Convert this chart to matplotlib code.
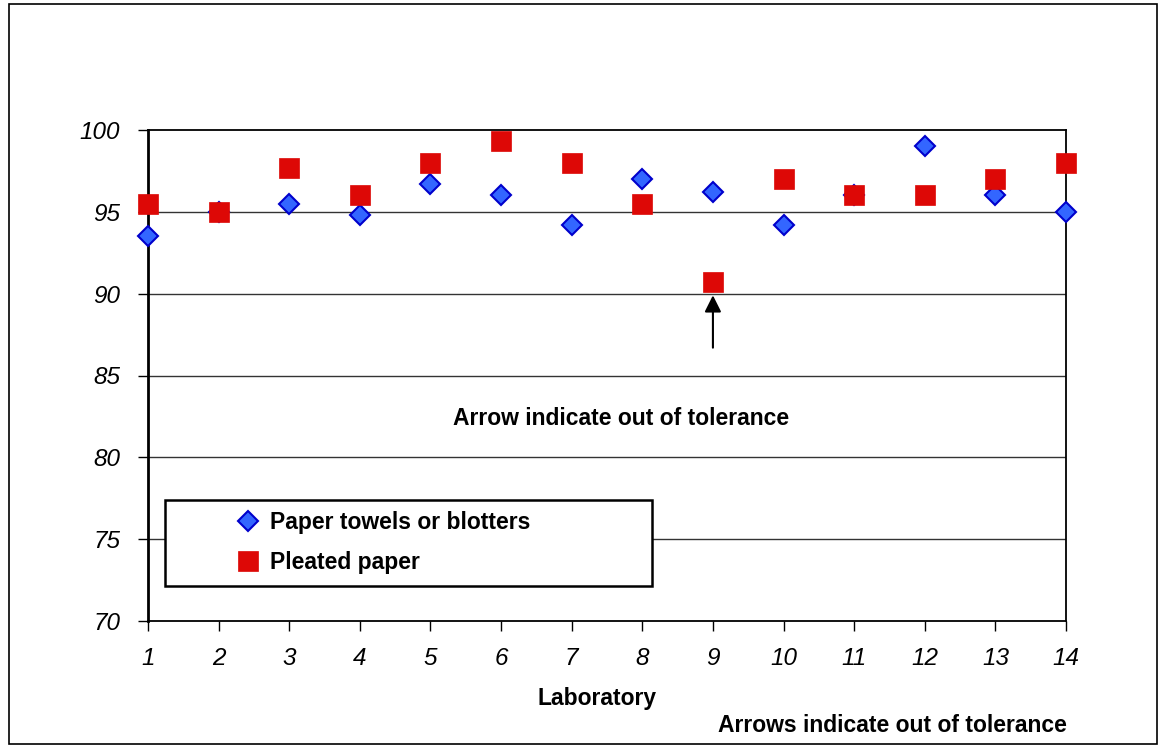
import matplotlib
matplotlib.use("Agg")
import matplotlib.pyplot as plt
from matplotlib.patches import Rectangle

labs = list(range(1, 15))
towels = [93.5, 95.0, 95.5, 94.8, 96.7, 96.0, 94.2, 97.0, 96.2, 94.2, 96.0, 99.0, 96.0, 95.0]
pleated = [95.5, 95.0, 97.7, 96.0, 98.0, 99.3, 98.0, 95.5, 90.7, 97.0, 96.0, 96.0, 97.0, 98.0]
yticks = [70, 75, 80, 85, 90, 95, 100]

plt.rcParams['font.family'] = ['Liberation Sans', 'DejaVu Sans']

fig = plt.figure(figsize=(11.67, 7.46), dpi=100)
W, H = 1167, 746
x0, x1, y0, y1 = 148, 1066, 130, 621
ax = fig.add_axes([x0 / W, 1 - y1 / H, (x1 - x0) / W, (y1 - y0) / H])
ax.set_xlim(1, 14)
ax.set_ylim(70, 100)
ax.set_yticks(yticks)
ax.set_xticks(labs)
for t in yticks[1:-1]:
    ax.axhline(t, color='#333333', lw=1.0, zorder=1)
for s in ax.spines.values():
    s.set_color('black')
    s.set_linewidth(1.3)
ax.spines['left'].set_linewidth(2)
ax.tick_params(axis='y', direction='out', length=7, width=1, pad=13, labelsize=17.5)
ax.tick_params(axis='x', direction='out', length=7, width=1, pad=12, labelsize=17.5)
for lbl in ax.get_xticklabels() + ax.get_yticklabels():
    lbl.set_fontstyle('italic')

ax.plot(labs, towels, linestyle='none', marker='D', markersize=10.5,
        markerfacecolor='#3366FF', markeredgecolor='#0000CC', markeredgewidth=1.5,
        clip_on=False, zorder=3, label='Paper towels or blotters')
ax.plot(labs, pleated, linestyle='none', marker='s', markersize=15,
        markerfacecolor='#DD0806', markeredgecolor='#DD0806', markeredgewidth=0.5,
        clip_on=False, zorder=4, label='Pleated paper')

ax.annotate('', xy=(9, 89.9), xytext=(9, 86.7),
            arrowprops=dict(arrowstyle='-|>', color='black', lw=1.5,
                            mutation_scale=25, shrinkA=0, shrinkB=0))
ax.text(7.70, 82.4, 'Arrow indicate out of tolerance', ha='center', va='center',
        fontsize=16.5, fontweight='bold')

def fx(px):
    return (px - x0) / (x1 - x0)

def fy(py):
    return 1 - (py - y0) / (y1 - y0)

box = Rectangle((fx(165), fy(586)), fx(652) - fx(165), fy(500) - fy(586),
                transform=ax.transAxes, facecolor='white', edgecolor='black',
                lw=1.8, zorder=5)
ax.add_patch(box)

handles, labels = ax.get_legend_handles_labels()
leg = ax.legend(handles, labels, loc='center left', bbox_to_anchor=(fx(233), fy(542.5)),
                frameon=False, prop={'weight': 'bold', 'size': 16.5},
                borderpad=0, labelspacing=0.75, handletextpad=0.3,
                borderaxespad=0, handlelength=1.31)
leg.set_zorder(6)

fig.text(597 / W, 1 - 698 / H, 'Laboratory', ha='center', va='center',
         fontsize=16.5, fontweight='bold')
fig.text(892 / W, 1 - 726 / H, 'Arrows indicate out of tolerance', ha='center', va='center',
         fontsize=16.5, fontweight='bold')

fig.patches.append(Rectangle((9 / W, 2 / H), (1157 - 9) / W, (743 - 3) / H,
                             transform=fig.transFigure, fill=False,
                             edgecolor='black', lw=1.2))

fig.savefig('out.png', dpi=100)
